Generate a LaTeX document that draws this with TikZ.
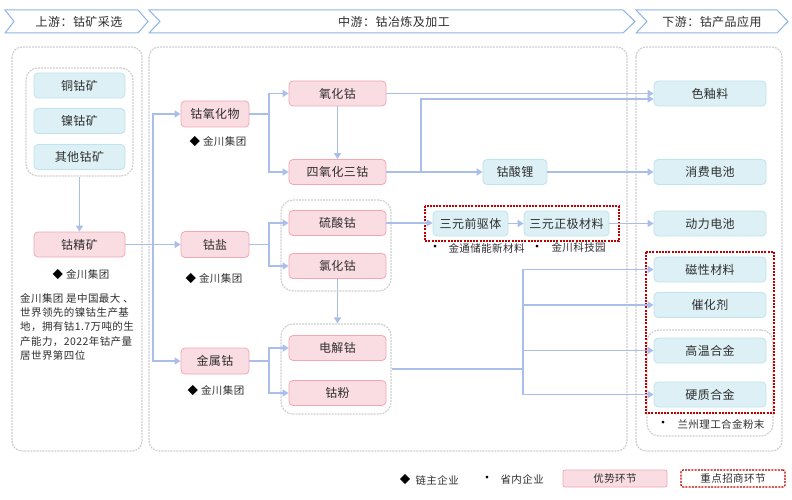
\documentclass[tikz,border=0pt]{standalone}
\usepackage{fontspec}
\setmainfont{Noto Sans CJK SC}[LetterSpace=4]
\usetikzlibrary{arrows.meta,calc}
\definecolor{pinkf}{HTML}{FADDE3}
\definecolor{pinkd}{HTML}{F2A7B3}
\definecolor{tealf}{HTML}{DDF0F5}
\definecolor{teald}{HTML}{BEE3EC}
\definecolor{lnc}{HTML}{A9BFEA}
\definecolor{hdr}{HTML}{8DB4E6}
\definecolor{grayd}{HTML}{CFCFCF}
\definecolor{redd}{HTML}{C00000}
\definecolor{txt}{HTML}{2E2E2E}
\begin{document}
\begin{tikzpicture}[x=1pt,y=-1pt, font=\fontsize{12}{14}\selectfont, text=txt,
 pbox/.style={draw=pinkd, fill=pinkf, rounded corners=4pt, line width=0.8pt, minimum height=25, inner sep=0},
 tbox/.style={draw=teald, fill=tealf, rounded corners=4pt, line width=0.8pt, minimum height=25, inner sep=0},
 panel/.style={draw=grayd, dash pattern=on 2pt off 1pt, line width=1.2pt, rounded corners=10pt},
 grp/.style={draw=grayd, dash pattern=on 2pt off 1pt, line width=1.2pt, rounded corners=12pt, inner sep=0},
 reddash/.style={draw=redd, dash pattern=on 2pt off 1.2pt, line width=1.2pt},
 ln/.style={draw=lnc, line width=1.8pt},
 arr/.style={ln, -{Triangle[length=6pt,width=7pt]}},
 small/.style={font=\fontsize{10.5}{12}\selectfont},
 bul/.style={font=\fontsize{13}{13}\selectfont, text=black},
 hdrs/.style={draw=hdr, line width=1pt, fill=white},
]
\useasboundingbox (0,0) rectangle (792,500);
% headers
\draw[hdrs] (5,10) -- (138,10) -- (148,21.5) -- (138,33) -- (5,33) -- (14,21.5) -- cycle;
\node (h1) at (79,21.5) {上游：钴矿采选};
\draw[hdrs] (149,10) -- (623,10) -- (635,21.5) -- (623,33) -- (149,33) -- (160,21.5) -- cycle;
\node (h2) at (394,21.5) {中游：钴冶炼及加工};
\draw[hdrs] (636,10) -- (777,10) -- (788,21.5) -- (777,33) -- (636,33) -- (647,21.5) -- cycle;
\node (h3) at (712,21.5) {下游：钴产品应用};
% panels
\draw[panel] (12,47) rectangle (142,451);
\draw[panel] (149,47) rectangle (627,451);
\draw[panel] (636,47) rectangle (782,451);
% upstream
\node[grp, minimum width=107, minimum height=108] (upg) at (79.5,122) {};
\node[tbox, minimum width=91] (u1) at (79.5,85.5) {铜钴矿};
\node[tbox, minimum width=91] (u2) at (79.5,121) {镍钴矿};
\node[tbox, minimum width=91] (u3) at (79.5,157) {其他钴矿};
\node[pbox, minimum width=91] (jjk) at (79.5,244.5) {钴精矿};
\draw[arr] (upg.south) -- (jjk.north);
\node[small] (jc0) at (81,275) {{\color{black}◆} 金川集团};
\node[small, anchor=north west, align=left, inner sep=0, font=\fontsize{10.5}{14.3}\selectfont] (desc) at (20,293) {金川集团 是中国最大 、\\世界领先的镍钴生产基\\地，拥有钴1.7万吨的生\\产能力，2022年钴产量\\居世界第四位};
% mid level 1
\node[pbox, minimum width=68, minimum height=26] (yhw) at (215,114) {钴氧化物};
\node[pbox, minimum width=68, minimum height=26] (gy) at (215,244.5) {钴盐};
\node[pbox, minimum width=68, minimum height=26] (jsg) at (215,361) {金属钴};
\node[small] (jc1) at (218,142) {{\color{black}◆} 金川集团};
\node[small] (jc2) at (214,279) {{\color{black}◆} 金川集团};
\node[small] (jc3) at (216,391) {{\color{black}◆} 金川集团};
\coordinate (t0) at (153,244.5);
\draw[ln] (jjk.east) -- (t0);
\draw[arr] (t0) |- (yhw.west);
\draw[arr] (t0) -- (gy.west);
\draw[arr] (t0) |- (jsg.west);
% mid level 2
\node[grp, minimum width=110, minimum height=91] (g1) at (336,245.5) {};
\node[grp, minimum width=110, minimum height=90] (g2) at (336,369) {};
\node[pbox, minimum width=97] (yhg) at (337.5,93.5) {氧化钴};
\node[pbox, minimum width=97] (shg) at (337.5,172) {四氧化三钴};
\node[pbox, minimum width=97] (lsg) at (337.5,223) {硫酸钴};
\node[pbox, minimum width=97] (lhg) at (337.5,266) {氯化钴};
\node[pbox, minimum width=97] (djg) at (337.5,348) {电解钴};
\node[pbox, minimum width=97] (gf) at (337.5,393) {钴粉};
\coordinate (b1) at (269,114);
\draw[ln] (yhw.east) -- (b1);
\draw[arr] (b1) |- (yhg.west);
\draw[arr] (b1) |- (shg.west);
\draw[arr] (yhg.south) -- (shg.north);
\coordinate (b2) at (269,244.5);
\draw[ln] (gy.east) -- (b2);
\draw[arr] (b2) |- (lsg.west);
\draw[arr] (b2) |- (lhg.west);
\draw[arr] (lhg.south) -- (lhg.south |- g2.north);
\coordinate (b3) at (269,361);
\draw[ln] (jsg.east) -- (b3);
\draw[arr] (b3) |- (djg.west);
\draw[arr] (b3) |- (gf.west);
% right side
\node[grp, minimum width=126, minimum height=106] (rg) at (710,383) {};
\node[tbox, minimum width=112] (syl) at (710,93.5) {色釉料};
\node[tbox, minimum width=112] (xfdc) at (710,172) {消费电池};
\node[tbox, minimum width=112] (dldc) at (710,223.5) {动力电池};
\node[tbox, minimum width=112] (cxcl) at (710,269.5) {磁性材料};
\node[tbox, minimum width=112] (chj) at (710,305) {催化剂};
\node[tbox, minimum width=112] (gwhj) at (710,350.5) {高温合金};
\node[tbox, minimum width=112] (yzhj) at (710,394.5) {硬质合金};
\draw[reddash] (646,252) rectangle (774,413);
\node[bul] (rb) at (663,424) {•};
\node[small, anchor=west] (rt) at (674,424) {兰州理工合金粉末};
% middle right
\node[tbox, minimum width=64] (gsl) at (515,172) {钴酸锂};
\node[tbox, minimum width=75] (sq) at (470.5,223.5) {三元前驱体};
\node[tbox, minimum width=85] (sz) at (566.5,223.5) {三元正极材料};
\draw[reddash] (425,206) rectangle (619,241);
\node[bul] (sb1) at (435,248) {•};
\node[small, anchor=west] (st1) at (445,248) {金通储能新材料};
\node[bul] (sb2) at (537,248) {•};
\node[small, anchor=west] (st2) at (548,248) {金川科技园};
\draw[arr] (yhg.east) -- (syl.west);
\draw[arr] (shg.east) -- (gsl.west);
\coordinate (b4) at (421,172);
\draw[arr] (b4) |- ($(syl.west)+(0,5.5)$);
\draw[arr] (gsl.east) -- (xfdc.west);
\draw[arr] (lsg.east) -- (lsg.east -| sq.west);
\draw[arr] (sq.east) -- (sz.west);
\draw[arr] (sz.east) -- (dldc.west);
\coordinate (b5) at (523,369);
\draw[ln] (g2.east) -- (b5);
\draw[arr] (b5) |- (cxcl.west);
\draw[arr] (b5) |- (chj.west);
\draw[arr] (b5) |- (gwhj.west);
\draw[arr] (b5) |- (yzhj.west);
% legend
\node[small, text=black] (ld) at (405,480) {◆};
\node[small, anchor=west] (ldt) at (412,480) {链主企业};
\node[bul] (lb) at (487,479) {•};
\node[small, anchor=west] (lbt) at (497,479) {省内企业};
\node[pbox, small, minimum width=104, minimum height=17, rounded corners=2pt] (lg1) at (615,478.5) {优势环节};
\node[reddash, small, rounded corners=2pt, minimum width=104, minimum height=17, inner sep=0] (lg2) at (733,478.5) {重点招商环节};
\end{tikzpicture}
\end{document}
